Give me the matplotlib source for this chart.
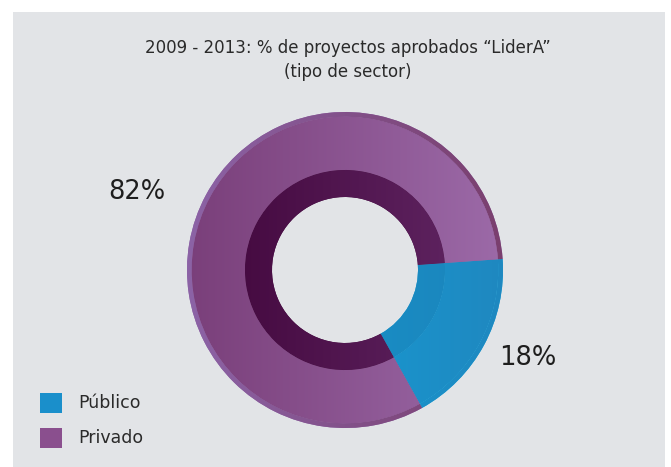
import numpy as np
import matplotlib.pyplot as plt
from matplotlib.colors import LinearSegmentedColormap
from matplotlib.patches import Rectangle

# datos
sectores = ["Público", "Privado"]
porcentajes = [18, 82]
etiquetas = ["18%", "82%"]
titulo = "2009 - 2013: % de proyectos aprobados \u201cLiderA\u201d\n(tipo de sector)"

# colores (izquierda -> derecha para el degradado)
col_externo = [("#12a6df", "#1f88c0"), ("#7a3f7a", "#9c6aa8")]
col_borde = [("#12a6df", "#1f88c0"), ("#8c63a6", "#7a3f6e")]
col_interno = [("#1598d0", "#1c84bb"), ("#40053a", "#632866")]
col_leyenda = ["#1a8fcb", "#8a4f8e"]

W, H = 671, 467
fig = plt.figure(figsize=(W / 100, H / 100), dpi=100)
fig.patch.set_facecolor("white")
fig.patches.append(Rectangle((13 / W, 0), (665 - 13) / W, (H - 12) / H,
                             transform=fig.transFigure, facecolor="#e2e4e7",
                             edgecolor="none", zorder=-5))

# ejes del donut
cx, cy, r = 345, 270, 158
ax = fig.add_axes([(cx - r) / W, (H - cy - r) / H, 2 * r / W, 2 * r / H])
ax.set_zorder(1)
ax.patch.set_visible(False)
ax.axis("off")

r_mid = 100 / r
r_hole = 73 / r

grad = np.linspace(0, 1, 256).reshape(1, -1)


def donut(radio, ancho, colores):
    wedges, _ = ax.pie(porcentajes, radius=radio, startangle=4, counterclock=False,
                       colors=[c[0] for c in colores],
                       wedgeprops=dict(width=ancho, edgecolor="none"))
    for w, (c0, c1) in zip(wedges, colores):
        cmap = LinearSegmentedColormap.from_list("g", [c0, c1])
        im = ax.imshow(grad, cmap=cmap, extent=(-1, 1, -1, 1), aspect="auto",
                       zorder=w.get_zorder() + 0.1)
        im.set_clip_path(w)
    return wedges


donut(1.0, 0.03, col_borde)
donut(0.97, 0.97 - r_mid, col_externo)
donut(r_mid, r_mid - r_hole, col_interno)
ax.set_xlim(-1, 1)
ax.set_ylim(-1, 1)
ax.set_aspect("equal")

# titulo y porcentajes
fig.text(348 / W, 1 - 60 / H, titulo, ha="center", va="center",
         fontsize=12, color="#2a2a2a", linespacing=1.4)
fig.text(137 / W, 1 - 192 / H, etiquetas[1], ha="center", va="center",
         fontsize=18.5, color="#1e1e1e")
fig.text(528 / W, 1 - 358 / H, etiquetas[0], ha="center", va="center",
         fontsize=18.5, color="#1e1e1e")

# leyenda
for i, (nombre, c) in enumerate(zip(sectores, col_leyenda)):
    y = 403 + i * 35
    fig.patches.append(Rectangle((40 / W, 1 - (y + 10) / H), 22 / W, 20 / H,
                                 transform=fig.transFigure, facecolor=c,
                                 edgecolor="none", zorder=2))
    fig.text(78 / W, 1 - y / H, nombre, ha="left", va="center",
             fontsize=12.5, color="#2a2a2a")

fig.savefig("out.png", dpi=100)
